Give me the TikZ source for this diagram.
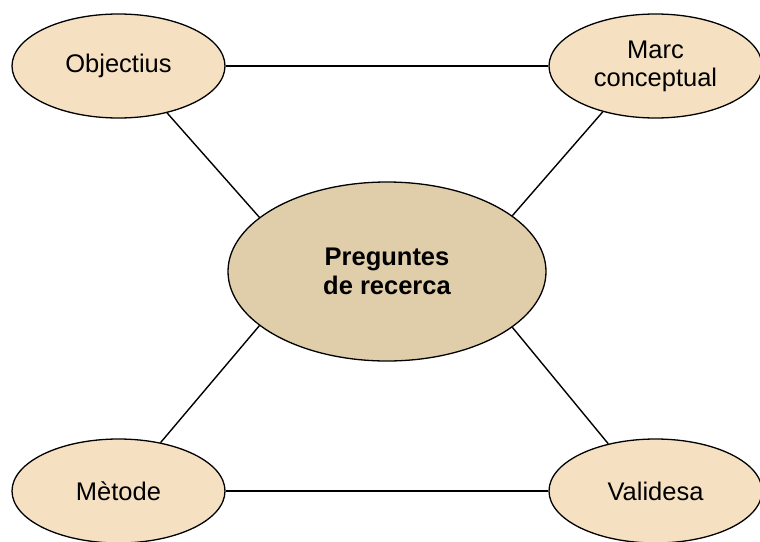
\documentclass[tikz,border=0pt]{standalone}
\usepackage{fontspec}
\setmainfont{Liberation Sans}
\usetikzlibrary{shapes.geometric}
\definecolor{topicfill}{HTML}{F5E1C2}
\definecolor{corefill}{HTML}{E0CDAA}
\begin{document}
\begin{tikzpicture}[x=1pt,y=-1pt,
  topic/.style={ellipse, draw=black, line width=1.3pt, fill=topicfill,
    minimum width=213pt, minimum height=104pt, inner sep=0pt,
    align=center, font=\fontsize{25.5}{28}\selectfont},
  core/.style={ellipse, draw=black, line width=1.3pt, fill=corefill,
    minimum width=318pt, minimum height=179pt, inner sep=0pt,
    align=center, font=\fontsize{25.5}{29}\selectfont\bfseries},
  link/.style={draw=black, line width=1.4pt}]
\useasboundingbox (0,0) rectangle (760,541);
\clip (0,0) rectangle (760,541);
\fill[white] (0,0) rectangle (760,541);

% the four topics around the central question
\node[topic] (obj) at (118.5,66) {Objectius};
\node[topic] (marc) at (655.5,66) {Marc\\conceptual};
\node[topic] (met) at (118.5,491) {Mètode};
\node[topic] (val) at (655.5,491) {Validesa};
\node[core] (core) at (387,271.5) {Preguntes\\de recerca};

% connectors between the ellipse borders
\draw[link] (obj.east) -- (marc.west);
\draw[link] (met.east) -- (val.west);
\draw[link] (obj.-44) -- (core.157);
\draw[link] (marc.-139) -- (core.24);
\draw[link] (met.49) -- (core.203);
\draw[link] (val.135) -- (core.-24);
\end{tikzpicture}
\end{document}
